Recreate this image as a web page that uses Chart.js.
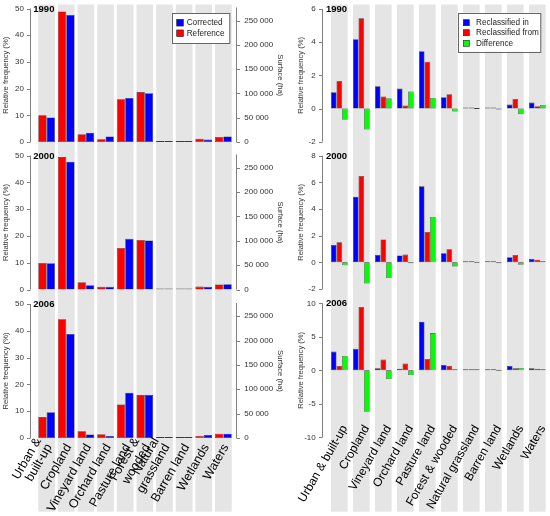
<!DOCTYPE html>
<html>
<head>
<meta charset="utf-8">
<script src="https://cdn.jsdelivr.net/npm/chart.js@4.4.0/dist/chart.umd.min.js"></script>
<style>
  body { margin: 0; background: #fff; }
  #wrap { position: relative; width: 550px; height: 516px; }
  canvas { position: absolute; }
</style>
</head>
<body>
<div id="wrap">
  <canvas id="l0" width="290" height="149" style="left:0;top:0"></canvas>
  <canvas id="l1" width="290" height="148" style="left:0;top:149px"></canvas>
  <canvas id="l2" width="290" height="219" style="left:0;top:297px"></canvas>
  <canvas id="r0" width="260" height="149" style="left:290px;top:0"></canvas>
  <canvas id="r1" width="260" height="148" style="left:290px;top:149px"></canvas>
  <canvas id="r2" width="260" height="219" style="left:290px;top:297px"></canvas>
</div>
<script>
// Land cover categories (long names for the right column, wrapped for the left)
var categories = ["Urban & built-up", "Cropland", "Vineyard land", "Orchard land", "Pasture land",
  "Forest & wooded", "Natural grassland", "Barren land", "Wetlands", "Waters"];
var shortLabels = [["Urban &", "built-up"], "Cropland", "Vineyard land", "Orchard land", "Pasture land",
  ["Forest &", "wooded"], ["Natural", "grassland"], "Barren land", "Wetlands", "Waters"];
var years = ["1990", "2000", "2006"];

// Left column: relative frequency (%)
var freqTicks = [0, 10, 20, 30, 40, 50];
var surfaceTicks = [0, 50000, 100000, 150000, 200000, 250000];
var surfaceAtTop = 275000; // ha matching 50 %

var reference1990 = [10.0, 48.9, 2.9, 1.0, 16.0, 18.7, 0.1, 0.1, 1.25, 1.9];
var corrected1990 = [9.2, 47.6, 3.5, 2.1, 16.5, 18.3, 0.1, 0.1, 0.9, 2.1];
var reference2000 = [9.9, 49.4, 2.7, 1.0, 15.5, 18.5, 0.1, 0.1, 1.1, 1.9];
var corrected2000 = [9.8, 47.7, 1.6, 1.0, 18.9, 18.3, 0.1, 0.1, 1.0, 2.0];
var reference2006 = [7.8, 44.3, 2.5, 1.4, 12.5, 16.0, 0.1, 0.1, 0.75, 1.6];
var corrected2006 = [9.6, 38.8, 1.3, 0.75, 16.9, 16.0, 0.1, 0.1, 1.1, 1.6];

// Right column: reclassification (%)
var reclIn1990 = [0.98, 4.18, 1.34, 1.20, 3.46, 0.68, 0.02, 0.02, 0.24, 0.36];
var reclFrom1990 = [1.66, 5.44, 0.72, 0.18, 2.82, 0.86, 0.02, 0.04, 0.58, 0.14];
var diff1990 = [-0.68, -1.26, 0.62, 1.02, 0.64, -0.18, 0.0, -0.02, -0.34, 0.22];
var reclIn2000 = [1.30, 4.92, 0.55, 0.52, 5.70, 0.68, 0.02, 0.02, 0.38, 0.25];
var reclFrom2000 = [1.50, 6.48, 1.72, 0.58, 2.28, 0.98, 0.02, 0.03, 0.55, 0.20];
var diff2000 = [-0.22, -1.58, -1.18, -0.06, 3.40, -0.32, 0.0, -0.01, -0.18, 0.04];
var reclIn2006 = [2.80, 3.20, 0.30, 0.25, 7.25, 0.80, 0.05, 0.03, 0.65, 0.30];
var reclFrom2006 = [0.65, 9.45, 1.60, 1.00, 1.70, 0.65, 0.03, 0.03, 0.30, 0.25];
var diff2006 = [2.15, -6.20, -1.30, -0.72, 5.55, 0.15, 0.02, 0.0, 0.35, 0.05];

var diffTicks1990 = [-2, 0, 2, 4, 6];
var diffTicks2000 = [-2, 0, 2, 4, 6, 8];
var diffTicks2006 = [-10, -5, 0, 5, 10];

var FONT = '"Liberation Sans", Arial, Helvetica, sans-serif';
Chart.defaults.font.family = FONT;

function spaced(v) {
  return String(v).replace(/\B(?=(\d{3})+(?!\d))/g, " ");
}

// grey stripes, R-style axis lines, year tag and boxed legend
var decoPlugin = {
  id: "deco",
  beforeDraw: function (chart, args, o) {
    var ctx = chart.ctx, xs = chart.scales.x;
    var n = chart.data.labels.length;
    var w = xs.width / n * o.stripe;
    ctx.save();
    ctx.fillStyle = "#e5e5e5";
    for (var i = 0; i < n; i++) {
      var cx = xs.getPixelForValue(i);
      ctx.fillRect(cx - w / 2, o.stripeTop, w, o.stripeBottom - o.stripeTop);
    }
    ctx.restore();

    // wrapped labels: keep the last line on the anchor, earlier lines go up-left
    if (xs.options.display) {
      xs.getLabelItems(chart.chartArea).forEach(function (item) {
        if (Array.isArray(item.label) && !item._moved) {
          item.textOffset -= item.font.lineHeight * (item.label.length - 1);
          item._moved = true;
        }
      });
    }
  },
  afterDraw: function (chart, args, o) {
    var ctx = chart.ctx, ca = chart.chartArea;
    ctx.save();
    ctx.strokeStyle = "#808080";
    ctx.lineWidth = 1;
    o.axes.forEach(function (a) {
      var s = chart.scales[a.id];
      var x = Math.round(a.side === "left" ? ca.left - a.gap : ca.right + a.gap) + 0.5;
      var dir = a.side === "left" ? -1 : 1;
      var y0 = s.getPixelForValue(s.ticks[0].value);
      var y1 = a.toTop ? ca.top - 1 : s.getPixelForValue(s.ticks[s.ticks.length - 1].value);
      ctx.beginPath();
      ctx.moveTo(x, y0);
      ctx.lineTo(x, y1);
      s.ticks.forEach(function (t) {
        var y = Math.round(s.getPixelForValue(t.value)) + 0.5;
        ctx.moveTo(x, y);
        ctx.lineTo(x + dir * 3.5, y);
      });
      ctx.stroke();
    });

    ctx.fillStyle = "#000";
    ctx.font = "bold 9.5px " + FONT;
    ctx.textBaseline = "middle";
    ctx.textAlign = "left";
    ctx.fillText(o.year, ca.left + o.yearDx, ca.top + 0.5);

    var lg = o.legend;
    if (lg) {
      var bx = ca.right - lg.right - lg.width, by = ca.top + lg.top;
      ctx.fillStyle = "#fff";
      ctx.fillRect(bx, by, lg.width, lg.height);
      ctx.strokeStyle = "#666";
      ctx.strokeRect(Math.round(bx) + 0.5, Math.round(by) + 0.5, lg.width, lg.height);
      ctx.font = "8.2px " + FONT;
      lg.order.forEach(function (di, k) {
        var ds = chart.data.datasets[di];
        var ry = by + lg.rows[k];
        ctx.fillStyle = ds.backgroundColor;
        ctx.fillRect(bx + lg.markX, ry - lg.mark / 2, lg.mark, lg.mark);
        ctx.strokeStyle = "#222";
        ctx.lineWidth = 0.6;
        ctx.strokeRect(bx + lg.markX, ry - lg.mark / 2, lg.mark, lg.mark);
        ctx.fillStyle = "#222";
        ctx.fillText(ds.label, bx + lg.textX, ry + 0.5);
      });
    }
    ctx.restore();
  }
};

function bar(label, data, color) {
  return { label: label, data: data, backgroundColor: color,
    borderColor: "rgba(0,0,0,0.75)", borderWidth: 0.6, borderSkipped: false, minBarLength: 1 };
}

function xScale(show, size, height, pad, shift) {
  return {
    display: show,
    grid: { display: false, drawTicks: false },
    border: { display: false },
    ticks: { autoSkip: false, minRotation: 60, maxRotation: 60, color: "#000", padding: pad,
      labelOffset: shift, font: { size: size, lineHeight: 1.0 } },
    afterFit: function (s) {
      if (show) s.height = height;
      s.paddingLeft = 0; s.paddingRight = 0;
      // labels reach up into the plot band, so do not clip them to the axis box
      s._computeLabelArea = function () { return undefined; };
    }
  };
}

function freezeY(width, tickValues) {
  return {
    afterBuildTicks: function (s) { s.ticks = tickValues.map(function (v) { return { value: v }; }); },
    afterFit: function (s) { s.width = width; s.paddingTop = 0; s.paddingBottom = 0; }
  };
}

var leftPads = [
  { top: 8.5, bottom: 7, stripeTop: 4.5, stripeBottom: 149 },
  { top: 6.5, bottom: 7.5, stripeTop: 0, stripeBottom: 148 },
  { top: 7, bottom: 0, stripeTop: 0, stripeBottom: 214.7 }
];
var rightPads = [
  { top: 9, bottom: 7.3, stripeTop: 4.5, stripeBottom: 149 },
  { top: 6.7, bottom: 8, stripeTop: 0, stripeBottom: 148 },
  { top: 6.3, bottom: 0, stripeTop: 0, stripeBottom: 214.7 }
];

var leftRef = [reference1990, reference2000, reference2006];
var leftCor = [corrected1990, corrected2000, corrected2006];
var rightIn = [reclIn1990, reclIn2000, reclIn2006];
var rightFrom = [reclFrom1990, reclFrom2000, reclFrom2006];
var rightDiff = [diff1990, diff2000, diff2006];
var rightTicks = [diffTicks1990, diffTicks2000, diffTicks2006];

var tickFont = { size: 8 };
var titleFont = { size: 7.6 };

years.forEach(function (year, i) {
  var p = leftPads[i], last = i === years.length - 1;
  var y = Object.assign({
    position: "left", min: freqTicks[0], max: freqTicks[freqTicks.length - 1],
    grid: { display: false, drawTicks: false }, border: { display: false },
    ticks: { font: tickFont, color: "#333", padding: 12.8 },
    title: { display: true, text: "Relative frequency (%)", color: "#333", font: titleFont, padding: { top: 1, bottom: 0 } }
  }, freezeY(36.8, freqTicks));
  var y2 = Object.assign({
    position: "right", min: 0, max: surfaceAtTop,
    grid: { display: false, drawTicks: false }, border: { display: false },
    ticks: { font: tickFont, color: "#333", padding: 11.1, callback: function (v) { return spaced(v); } },
    title: { display: true, text: "Surface (ha)", color: "#333", font: titleFont, padding: { top: 5.5, bottom: 0 } }
  }, freezeY(56.8, surfaceTicks));

  new Chart("l" + i, {
    type: "bar",
    data: {
      labels: shortLabels,
      datasets: [bar("Reference", leftRef[i], "#ff0000"), bar("Corrected", leftCor[i], "#0000ff")]
    },
    options: {
      responsive: false,
      animation: false,
      events: [],
      layout: { padding: { top: p.top, bottom: p.bottom, left: 0, right: 0 } },
      datasets: { bar: { categoryPercentage: 0.85, barPercentage: 1 } },
      plugins: {
        legend: { display: false },
        tooltip: { enabled: false },
        deco: {
          stripe: 0.85, stripeTop: p.stripeTop, stripeBottom: p.stripeBottom,
          year: year, yearDx: -3.5,
          axes: [{ id: "y", side: "left", gap: 6.8 }, { id: "y2", side: "right", gap: 2.8, toTop: true }],
          legend: i === 0 ? { right: 4.2, top: 4.8, width: 57.3, height: 30, rows: [9.4, 20],
            markX: 5, mark: 6.7, textX: 15, order: [1, 0] } : null
        }
      },
      scales: { x: xScale(last, 12.5, 78, 4, 2.6), y: y, y2: y2 }
    },
    plugins: [decoPlugin]
  });

  var rp = rightPads[i], tv = rightTicks[i];
  var ry = Object.assign({
    position: "left", min: tv[0], max: tv[tv.length - 1],
    grid: { display: false, drawTicks: false }, border: { display: false },
    ticks: { font: tickFont, color: "#333", padding: 12.6 },
    title: { display: true, text: "Relative frequency (%)", color: "#333", font: titleFont, padding: { top: 6.8, bottom: 0 } }
  }, freezeY(38.3, tv));

  new Chart("r" + i, {
    type: "bar",
    data: {
      labels: categories,
      datasets: [
        bar("Reclassified in", rightIn[i], "#0000ff"),
        bar("Reclassified from", rightFrom[i], "#ff0000"),
        bar("Difference", rightDiff[i], "#00ff00")
      ]
    },
    options: {
      responsive: false,
      animation: false,
      events: [],
      layout: { padding: { top: rp.top, bottom: rp.bottom, left: 0, right: 1.7 } },
      datasets: { bar: { categoryPercentage: 0.76, barPercentage: 1 } },
      plugins: {
        legend: { display: false },
        tooltip: { enabled: false },
        deco: {
          stripe: 0.76, stripeTop: rp.stripeTop, stripeBottom: rp.stripeBottom,
          year: year, yearDx: -2.3,
          axes: [{ id: "y", side: "left", gap: 6.6 }],
          legend: i === 0 ? { right: 8.3, top: 3.7, width: 82.3, height: 39, rows: [10, 20, 30.6],
            markX: 5.6, mark: 6, textX: 18.3, order: [0, 1, 2] } : null
        }
      },
      scales: { x: xScale(last, 12, 78.7, -14, 5.5), y: ry }
    },
    plugins: [decoPlugin]
  });
});
</script>
</body>
</html>
